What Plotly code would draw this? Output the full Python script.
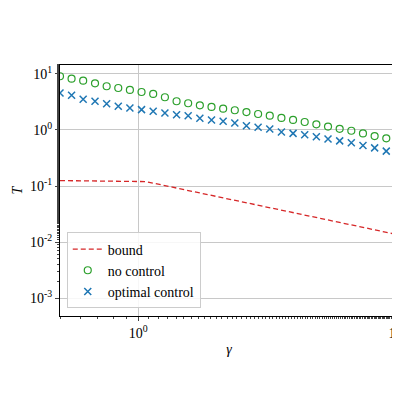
import plotly.graph_objects as go

gamma = [0.500, 0.554, 0.614, 0.682, 0.756, 0.838, 0.929, 1.030, 1.142, 1.267,
         1.405, 1.557, 1.727, 1.915, 2.123, 2.354, 2.610, 2.894, 3.209, 3.558,
         3.945, 4.374, 4.850, 5.378, 5.963, 6.612, 7.331, 8.129, 9.013, 9.994]
no_control = [9.1, 8.24, 7.59, 6.82, 6.03, 5.62, 5.18, 4.77, 4.40, 3.84,
              3.26, 3.00, 2.76, 2.58, 2.40, 2.25, 2.09, 1.93, 1.80, 1.64,
              1.51, 1.39, 1.26, 1.15, 1.05, 0.97, 0.87, 0.78, 0.71, 0.64]
optimal = [4.58, 4.17, 3.53, 3.26, 2.95, 2.65, 2.47, 2.31, 2.16, 2.01,
           1.87, 1.80, 1.62, 1.51, 1.43, 1.33, 1.19, 1.12, 1.04, 0.92,
           0.87, 0.82, 0.76, 0.69, 0.64, 0.59, 0.53, 0.48, 0.42, 0.35]
bound_x = [0.5, 1.07, 10]
bound_y = [0.125, 0.12, 0.0135]

font = dict(family="Liberation Serif", size=14, color="black")

fig = go.Figure()
fig.add_trace(go.Scatter(x=bound_x, y=bound_y, mode="lines", name="bound",
                         line=dict(color="#d62728", dash="5px,3px", width=1.3)))
fig.add_trace(go.Scatter(x=gamma, y=no_control, mode="markers", name="no control",
                         marker=dict(symbol="circle-open", size=7, color="#2ca02c",
                                     line=dict(width=1.2))))
fig.add_trace(go.Scatter(x=gamma, y=optimal, mode="markers", name="optimal control",
                         marker=dict(symbol="x-thin-open", size=7, color="#1f77b4",
                                     line=dict(width=1.5, color="#1f77b4"))))

axis = dict(type="log", showline=True, linecolor="black", linewidth=1, mirror=True,
            ticks="outside", ticklen=4, showgrid=True, gridcolor="#c8c8c8",
            zeroline=False, tickfont=font, automargin=False,
            minor=dict(ticks="outside", ticklen=2, showgrid=False))
fig.update_xaxes(**axis, range=[-0.30103, 1], tickvals=[1, 10],
                 ticktext=["10<sup>0</sup>", "10<sup>1</sup>"],
                 title=dict(text="<i>γ</i>", font=font, standoff=4))
fig.update_yaxes(**axis, range=[-3.32, 1.16], tickvals=[0.001, 0.01, 0.1, 1, 10],
                 ticktext=["10<sup>-3</sup>", "10<sup>-2</sup>", "10<sup>-1</sup>",
                           "10<sup>0</sup>", "10<sup>1</sup>"],
                 title=dict(text="<i>T</i>", font=font, standoff=4))
fig.update_layout(width=400, height=400, template="simple_white",
                  plot_bgcolor="white", paper_bgcolor="white", font=font,
                  margin=dict(l=52, r=10, t=57, b=92),
                  legend=dict(x=0.02, y=0.03, xanchor="left", yanchor="bottom",
                              bgcolor="rgba(255,255,255,0.85)", bordercolor="#cccccc",
                              borderwidth=1, font=font))
fig.write_html("out.html")
